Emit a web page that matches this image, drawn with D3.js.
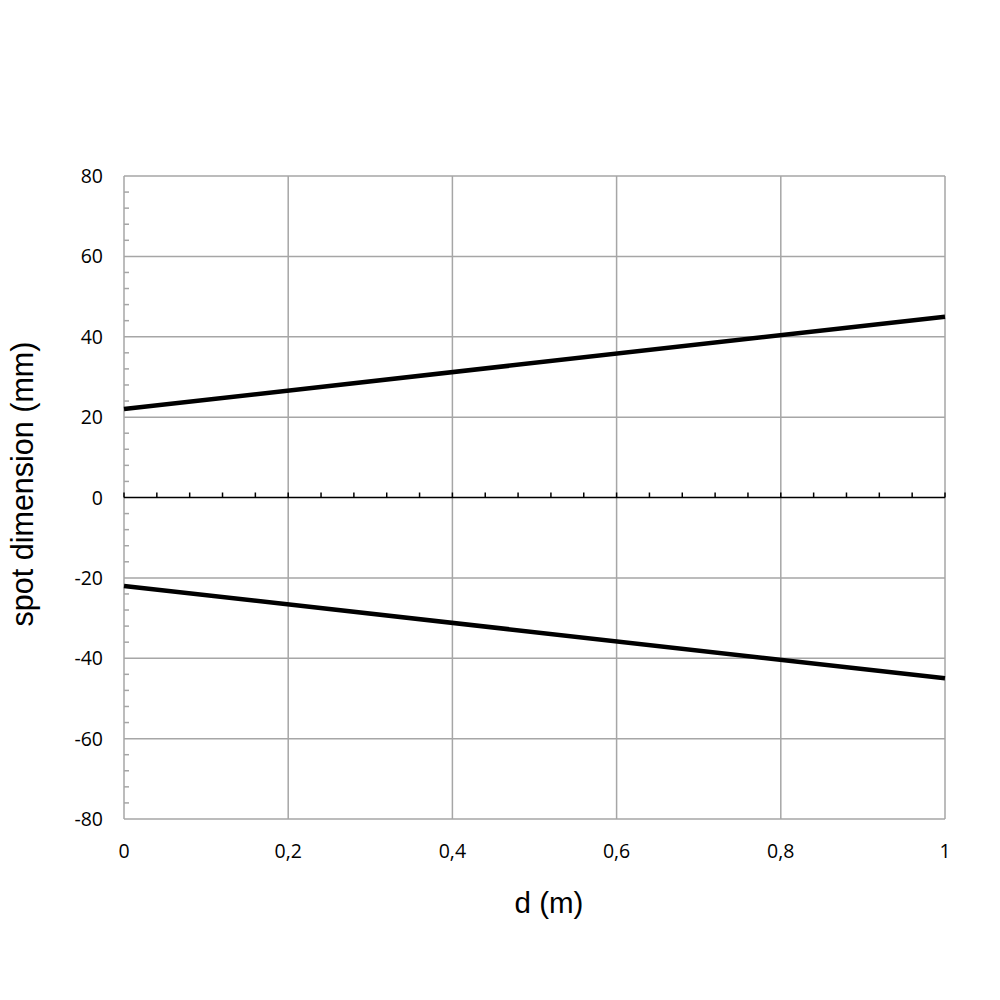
<!DOCTYPE html>
<html><head><meta charset="utf-8">
<script src="https://cdn.jsdelivr.net/npm/d3@7"></script>
<style>body{margin:0;background:#fff}svg{display:block}</style>
</head><body><svg id="c" width="1000" height="1000"></svg>
<script>
const dValues = [0, 1];
const upperSeries = [22, 45];
const lowerSeries = [-22, -45];
const xTicks = [0, 0.2, 0.4, 0.6, 0.8, 1];
const yTicks = [-80, -60, -40, -20, 0, 20, 40, 60, 80];
const xTitle = "d (m)";
const yTitle = "spot dimension (mm)";

const svg = d3.select("#c");
const L = 124, R = 945, T = 176, B = 819;
const x = d3.scaleLinear().domain([0, 1]).range([L, R]);
const y = d3.scaleLinear().domain([-80, 80]).range([B, T]);
const grid = "#a6a6a6";
const fmt = v => String(v).replace(".", ",");

const g = svg.append("g");
g.selectAll(".hg").data(yTicks.filter(v => v !== 0)).enter().append("line")
  .attr("x1", L).attr("x2", R).attr("y1", d => y(d)).attr("y2", d => y(d))
  .attr("stroke", grid).attr("stroke-width", 1.5);
g.selectAll(".vg").data(xTicks).enter().append("line")
  .attr("x1", d => x(d)).attr("x2", d => x(d)).attr("y1", T).attr("y2", B)
  .attr("stroke", grid).attr("stroke-width", 1.5);

const yMinor = d3.range(-80, 81, 4).filter(v => v % 20 !== 0);
g.selectAll(".ym").data(yMinor).enter().append("line")
  .attr("x1", L).attr("x2", L + 5).attr("y1", d => y(d)).attr("y2", d => y(d))
  .attr("stroke", grid).attr("stroke-width", 1.5);

const xMinor = d3.range(0, 26).map(i => i * 0.04);
g.append("line").attr("x1", L).attr("x2", R).attr("y1", y(0)).attr("y2", y(0))
  .attr("stroke", "#000").attr("stroke-width", 1.5);
g.selectAll(".xm").data(xMinor).enter().append("line")
  .attr("x1", d => x(d)).attr("x2", d => x(d)).attr("y1", y(0)).attr("y2", y(0) - 5)
  .attr("stroke", "#000").attr("stroke-width", 1.5);

const line = d3.line().x((d, i) => x(dValues[i])).y(d => y(d));
[upperSeries, lowerSeries].forEach(s => {
  svg.append("path").attr("d", line(s)).attr("fill", "none")
    .attr("stroke", "#000").attr("stroke-width", 4.5);
});

const lf = "'Open Sans', 'Noto Sans', sans-serif";
svg.selectAll(".yl").data(yTicks).enter().append("text")
  .attr("x", 103).attr("y", d => y(d) + 7).attr("text-anchor", "end")
  .attr("font-family", lf).attr("font-size", 19.5).attr("fill", "#000").text(d => d);
svg.selectAll(".xl").data(xTicks).enter().append("text")
  .attr("x", d => x(d)).attr("y", 858).attr("text-anchor", "middle")
  .attr("font-family", lf).attr("font-size", 19.5).attr("fill", "#000").text(fmt);

const tf = "'Liberation Sans', Arial, sans-serif";
svg.append("text").attr("x", 549).attr("y", 913).attr("text-anchor", "middle")
  .attr("font-family", tf).attr("font-size", 29.5).text(xTitle);
svg.append("text").attr("transform", "translate(33,484) rotate(-90)")
  .attr("text-anchor", "middle").attr("font-family", tf).attr("font-size", 30.5).text(yTitle);
</script></body></html>
